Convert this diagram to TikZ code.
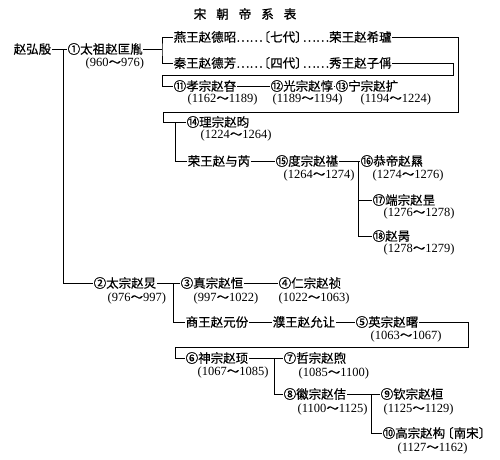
\documentclass[tikz,border=0pt]{standalone}
\usepackage{fontspec}
\setmainfont{Liberation Serif}
\newfontfamily\cjk[FakeBold=0.4]{Noto Sans CJK SC}
\newfontfamily\cjkt[FakeBold=1.2]{Noto Sans CJK SC}
\newcommand{\tl}{{\cjk ～}}
\begin{document}
\begin{tikzpicture}[x=1pt,y=-1pt,
  nm/.style={anchor=west,inner xsep=0.5pt,inner ysep=0pt,text height=11pt,text depth=1.5pt,font=\cjk\fontsize{12.5}{14}\selectfont},
  yr/.style={anchor=west,inner xsep=0.5pt,inner ysep=0pt,text height=11pt,text depth=1.5pt,font=\fontsize{12.5}{14}\selectfont},
  ln/.style={line width=1pt,draw=black}]
\useasboundingbox[fill=white] (0,0) rectangle (500,459);
\node[font=\cjkt\fontsize{12.5}{14}\selectfont] (title) at (245,14) {宋\hspace{10pt}朝\hspace{10pt}帝\hspace{10pt}系\hspace{10pt}表};
% names
\node[nm] (hong) at (13,49) {赵弘殷};
\node[nm] (taizu) at (67,49) {①太祖赵匡胤};
\node[yr] (taizuy) at (85,62) {(960\tl 976)};
\node[nm] (yan) at (173,37) {燕王赵德昭……\kern-5pt〔七代〕\kern-5pt……荣王赵希瓐};
\node[nm] (qin) at (173,63) {秦王赵德芳……\kern-5pt〔四代〕\kern-5pt……秀王赵子偁};
\node[nm] (xiao) at (173,86) {⑪孝宗赵昚};
\node[yr] (xiaoy) at (187,98) {(1162\tl 1189)};
\node[nm] (guang) at (270,86) {⑫光宗赵惇};
\node[yr] (guangy) at (272,98) {(1189\tl 1194)};
\node[nm] (ning) at (335,86) {⑬宁宗赵扩};
\node[yr] (ningy) at (360,98) {(1194\tl 1224)};
\node[nm] (li) at (186,122) {⑭理宗赵昀};
\node[yr] (liy) at (200,134) {(1224\tl 1264)};
\node[nm] (rong) at (187,161) {荣王赵与芮};
\node[nm] (du) at (275,161) {⑮度宗赵禥};
\node[yr] (duy) at (283,174) {(1264\tl 1274)};
\node[nm] (gong) at (360,161) {⑯恭帝赵㬎};
\node[yr] (gongy) at (372,174) {(1274\tl 1276)};
\node[nm] (duan) at (372,200) {⑰端宗赵昰};
\node[yr] (duany) at (383,212) {(1276\tl 1278)};
\node[nm] (bing) at (372,236) {⑱赵昺};
\node[yr] (bingy) at (383,248) {(1278\tl 1279)};
\node[nm] (taizong) at (93,283) {②太宗赵炅};
\node[yr] (taizongy) at (107,297) {(976\tl 997)};
\node[nm] (zhen) at (180,283) {③真宗赵恒};
\node[yr] (zheny) at (193,297) {(997\tl 1022)};
\node[nm] (ren) at (278,283) {④仁宗赵祯};
\node[yr] (reny) at (278,297) {(1022\tl 1063)};
\node[nm] (shang) at (185,322) {商王赵元份};
\node[nm] (pu) at (272,322) {濮王赵允让};
\node[nm] (ying) at (355,322) {⑤英宗赵曙};
\node[yr] (yingy) at (370,335) {(1063\tl 1067)};
\node[nm] (shen) at (185,358) {⑥神宗赵顼};
\node[yr] (sheny) at (197,371) {(1067\tl 1085)};
\node[nm] (zhe) at (283,358) {⑦哲宗赵煦};
\node[yr] (zhey) at (298,372) {(1085\tl 1100)};
\node[nm] (hui) at (283,394) {⑧徽宗赵佶};
\node[yr] (huiy) at (297,408) {(1100\tl 1125)};
\node[nm] (qinz) at (380,394) {⑨钦宗赵桓};
\node[yr] (qinzy) at (383,408) {(1125\tl 1129)};
\node[nm] (gao) at (382,433) {⑩高宗赵构\kern-4pt〔南宋〕};
\node[yr] (gaoy) at (397,447) {(1127\tl 1162)};
% junction coordinates
\coordinate (j1) at (63,49);
\coordinate (bA) at (162,49);
\coordinate (oR) at (458,112);
\coordinate (oL) at (163,112);
\coordinate (iR) at (453,75);
\coordinate (iL) at (162,75);
\coordinate (lr) at (175,122);
\coordinate (dj) at (358,161);
\coordinate (tj) at (173,283);
\coordinate (yR) at (468,347);
\coordinate (yL) at (175,347);
\coordinate (sj) at (274,358);
\coordinate (hj) at (371,394);
% connectors
\draw[ln] (hong) -- (taizu);
\draw[ln] (j1) |- (taizong.west);
\draw[ln] (taizu.east) -- (bA);
\draw[ln] (yan.west) -| (bA) |- (qin.west);
\draw[ln] (yan.east) -| (oR) -- (oL) |- (li.west);
\draw[ln] (qin.east) -| (iR) -- (iL) |- (xiao.west);
\draw[ln] (xiao) -- (guang);
\draw[ln] (guang) -- (ning);
\draw[ln] (lr) |- (rong.west);
\draw[ln] (rong) -- (du);
\draw[ln] (du) -- (gong);
\draw[ln] (dj) |- (duan.west);
\draw[ln] (dj) |- (bing.west);
\draw[ln] (taizong) -- (zhen);
\draw[ln] (tj) |- (shang.west);
\draw[ln] (zhen) -- (ren);
\draw[ln] (shang) -- (pu);
\draw[ln] (pu) -- (ying);
\draw[ln] (ying.east) -| (yR) -- (yL) |- (shen.west);
\draw[ln] (shen) -- (zhe);
\draw[ln] (sj) |- (hui.west);
\draw[ln] (hui) -- (qinz);
\draw[ln] (hj) |- (gao.west);
\end{tikzpicture}
\end{document}
